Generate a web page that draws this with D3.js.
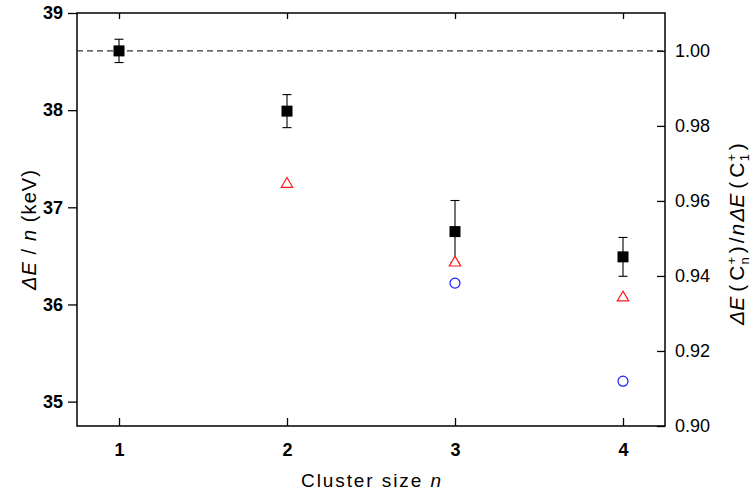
<!DOCTYPE html>
<html>
<head>
<meta charset="utf-8">
<script src="https://cdn.jsdelivr.net/npm/d3@7"></script>
<style>
  html, body { margin: 0; padding: 0; background: #fff; }
  svg { display: block; font-family: "Liberation Sans", Arial, sans-serif; }
</style>
</head>
<body>
<svg id="chart" width="751" height="495"></svg>
<script>
// Cluster sizes on the x axis
const clusterSizes = [1, 2, 3, 4];
// Measured energy loss per atom (keV) with uncertainties
const measuredValues = [38.61, 37.99, 36.75, 36.49];
const measuredErrors = [0.12, 0.17, 0.32, 0.20];
// Calculated values, first model (triangles)
const triangleSizes = [2, 3, 4];
const triangleValues = [37.25, 36.44, 36.08];
// Calculated values, second model (circles)
const circleSizes = [3, 4];
const circleValues = [36.22, 35.21];
// Single-ion reference value
const referenceValue = 38.61;
// Tick values
const leftTicks = [35, 36, 37, 38, 39];
const rightTicks = [0.90, 0.92, 0.94, 0.96, 0.98, 1.00];

const svg = d3.select("#chart");
const margin = { left: 77, right: 86, top: 13, bottom: 69 };
const W = 751, H = 495;
const x0 = margin.left, x1 = W - margin.right, y0 = margin.top, y1 = H - margin.bottom;

const x = d3.scaleLinear().domain([0.75, 4.25]).range([x0, x1]);
const y = d3.scaleLinear().domain([0.9 * referenceValue, 39]).range([y1, y0]);
const yRatio = d3.scaleLinear().domain([0.9, 1.0]).range([y(0.9 * referenceValue), y(referenceValue)]);

const FONT = "Liberation Sans, Arial, sans-serif";

// Frame
svg.append("rect").attr("x", x0).attr("y", y0).attr("width", x1 - x0).attr("height", y1 - y0)
  .attr("fill", "none").attr("stroke", "#000").attr("stroke-width", 1.5);

// Left axis (outward ticks, bold labels)
const gl = svg.append("g").attr("transform", `translate(${x0},0)`)
  .call(d3.axisLeft(y).tickValues(leftTicks).tickSize(9).tickPadding(5).tickFormat(d3.format("d")));
gl.select(".domain").remove();
gl.selectAll("line").attr("stroke-width", 1.3);
gl.selectAll("text").attr("font-size", 18).attr("font-weight", "bold").attr("fill", "#000").attr("font-family", FONT);

// Right axis (inward ticks)
const gr = svg.append("g").attr("transform", `translate(${x1},0)`)
  .call(d3.axisRight(yRatio).tickValues(rightTicks).tickSize(-8).tickPadding(10).tickFormat(d3.format(".2f")));
gr.select(".domain").remove();
gr.selectAll("line").attr("stroke-width", 1.3);
gr.selectAll("text").attr("font-size", 18).attr("fill", "#000").attr("font-family", FONT);

// Bottom axis (inward ticks, bold labels)
const gb = svg.append("g").attr("transform", `translate(0,${y1})`)
  .call(d3.axisBottom(x).tickValues(clusterSizes).tickSize(-8).tickPadding(17).tickFormat(d3.format("d")));
gb.select(".domain").remove();
gb.selectAll("line").attr("stroke-width", 1.3);
gb.selectAll("text").attr("font-size", 18).attr("font-weight", "bold").attr("fill", "#000").attr("font-family", FONT);

// Top mirrored ticks
const gt = svg.append("g").attr("transform", `translate(0,${y0})`)
  .call(d3.axisTop(x).tickValues(clusterSizes).tickSize(-6).tickFormat(""));
gt.select(".domain").remove();
gt.selectAll("line").attr("stroke-width", 1.3);

// Reference dashed line
svg.append("line")
  .attr("x1", x0).attr("x2", x1)
  .attr("y1", y(referenceValue)).attr("y2", y(referenceValue))
  .attr("stroke", "#333").attr("stroke-width", 1.2).attr("stroke-dasharray", "6,4");

// Error bars
const measured = clusterSizes.map((n, i) => ({ n, v: measuredValues[i], e: measuredErrors[i] }));
const eb = svg.append("g").attr("stroke", "#000").attr("stroke-width", 1.1);
measured.forEach(d => {
  const cx = x(d.n);
  eb.append("line").attr("x1", cx).attr("x2", cx).attr("y1", y(d.v - d.e)).attr("y2", y(d.v + d.e));
  [d.v - d.e, d.v + d.e].forEach(v => {
    eb.append("line").attr("x1", cx - 4.5).attr("x2", cx + 4.5).attr("y1", y(v)).attr("y2", y(v));
  });
});

// Circles
svg.append("g").selectAll("circle")
  .data(circleSizes.map((n, i) => ({ n, v: circleValues[i] })))
  .join("circle")
  .attr("cx", d => x(d.n)).attr("cy", d => y(d.v)).attr("r", 5)
  .attr("fill", "#fff").attr("stroke", "#1a1aff").attr("stroke-width", 1.2);

// Triangles
const tri = d3.symbol().type(d3.symbolTriangle).size(56);
svg.append("g").selectAll("path")
  .data(triangleSizes.map((n, i) => ({ n, v: triangleValues[i] })))
  .join("path")
  .attr("d", tri)
  .attr("transform", d => `translate(${x(d.n)},${y(d.v) + 1})`)
  .attr("fill", "#fff").attr("stroke", "#ff1a1a").attr("stroke-width", 1.2);

// Measured squares
svg.append("g").selectAll("rect")
  .data(measured)
  .join("rect")
  .attr("x", d => x(d.n) - 5.5).attr("y", d => y(d.v) - 5.5)
  .attr("width", 11).attr("height", 11).attr("fill", "#000");

// X axis title
const xt = svg.append("text").attr("x", (x0 + x1) / 2).attr("y", 487)
  .attr("text-anchor", "middle").attr("font-size", 19).attr("fill", "#000")
  .attr("textLength", 140).attr("lengthAdjust", "spacing");
xt.append("tspan").text("Cluster size ");
xt.append("tspan").attr("font-style", "italic").text("n");

// Left axis title
const yl = svg.append("text").attr("transform", "translate(36,230) rotate(-90)")
  .attr("text-anchor", "middle").attr("font-size", 20).attr("fill", "#000")
  .attr("textLength", 120).attr("lengthAdjust", "spacing");
yl.append("tspan").attr("font-style", "italic").text("ΔE");
yl.append("tspan").text(" / ");
yl.append("tspan").attr("font-style", "italic").text("n");
yl.append("tspan").text("  (keV)");

// Right axis title: ΔE(C_n^+)/nΔE(C_1^+)
const yr = svg.append("text").attr("transform", "translate(744,234) rotate(-90)")
  .attr("text-anchor", "middle").attr("font-size", 21).attr("fill", "#000");
function ionTerm(sel, sub) {
  sel.append("tspan").attr("dx", 5).text("(");
  sel.append("tspan").attr("dx", 4).text("C");
  sel.append("tspan").attr("font-size", 13).attr("dx", 1).attr("dy", -8).text("+");
  sel.append("tspan").attr("font-size", 13).attr("dx", -7.5).attr("dy", 13).text(sub);
  sel.append("tspan").attr("dx", 4).attr("dy", -5).text(")");
}
yr.append("tspan").attr("font-style", "italic").text("ΔE");
ionTerm(yr, "n");
yr.append("tspan").attr("dx", 3).text("/");
yr.append("tspan").attr("dx", 2).attr("font-style", "italic").text("n");
yr.append("tspan").attr("dx", 2).attr("font-style", "italic").text("ΔE");
ionTerm(yr, "1");
</script>
</body>
</html>
